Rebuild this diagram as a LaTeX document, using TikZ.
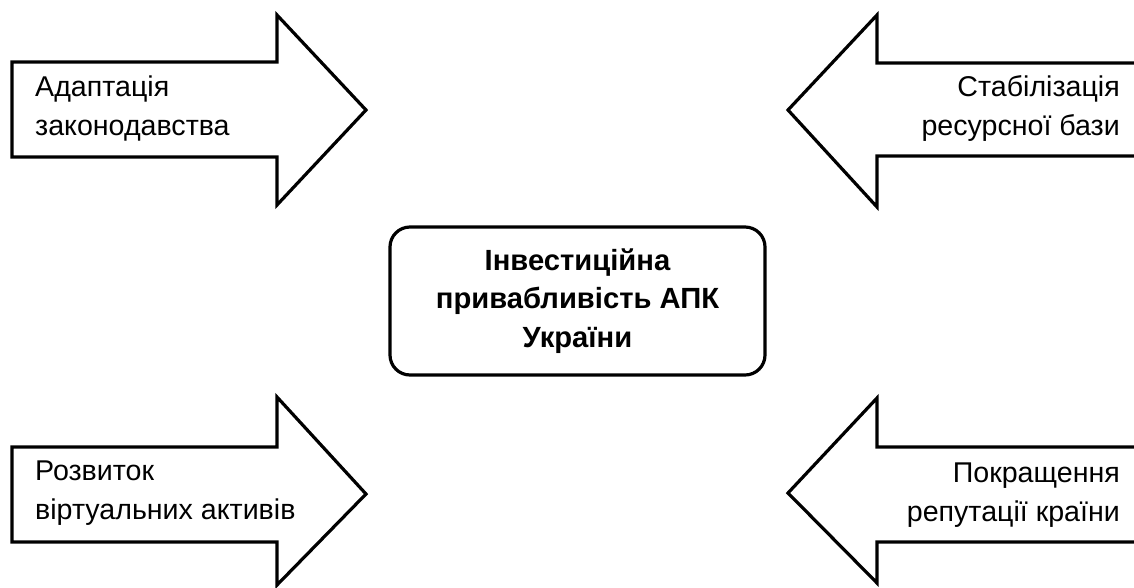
\documentclass[tikz,border=0pt]{standalone}
\usepackage{fontspec}
\setmainfont{Liberation Sans}
\tikzset{
  blockarrow/.style={draw=black, line width=3.2pt, line join=miter, fill=white},
  sidetext/.style={inner sep=0pt, font=\fontsize{28.6}{39}\selectfont},
  centerbox/.style={draw=black, line width=3.2pt, rounded corners=20pt, minimum width=375pt, minimum height=148pt, align=center, font=\bfseries\fontsize{29.2}{38.5}\selectfont}
}
\begin{document}
\begin{tikzpicture}[x=1pt,y=-1pt]
        \useasboundingbox (0,0) rectangle (1134,587);

        % Top left arrow
        \draw[blockarrow] (12,62) -- (277,62) -- (277,15) -- (366,110) -- (277,205) -- (277,157) -- (12,157) -- cycle;
        \node[sidetext, anchor=west, align=left] (law) at (35,108) {Адаптація\\законодавства};

        % Top right arrow (runs off the right edge)
        \draw[blockarrow] (1136,63) -- (877,63) -- (877,15) -- (788,110) -- (877,207) -- (877,156) -- (1136,156);
        \node[sidetext, anchor=east, align=right] (base) at (1120,108) {Стабілізація\\ресурсної бази};

        % Bottom left arrow
        \draw[blockarrow] (12,447) -- (277,447) -- (277,397) -- (366,494) -- (277,585) -- (277,542) -- (12,542) -- cycle;
        \node[sidetext, anchor=west, align=left] (virt) at (35,493) {Розвиток\\віртуальних активів};

        % Bottom right arrow (runs off the right edge)
        \draw[blockarrow] (1136,447) -- (877,447) -- (877,398) -- (788,493) -- (877,583) -- (877,542) -- (1136,542);
        \node[sidetext, anchor=east, align=right] (rep) at (1120,495) {Покращення\\репутації країни};

        % Centre
        \node[centerbox] (apk) at (577.5,301) {Інвестиційна\\привабливість АПК\\України};
\end{tikzpicture}
\end{document}
